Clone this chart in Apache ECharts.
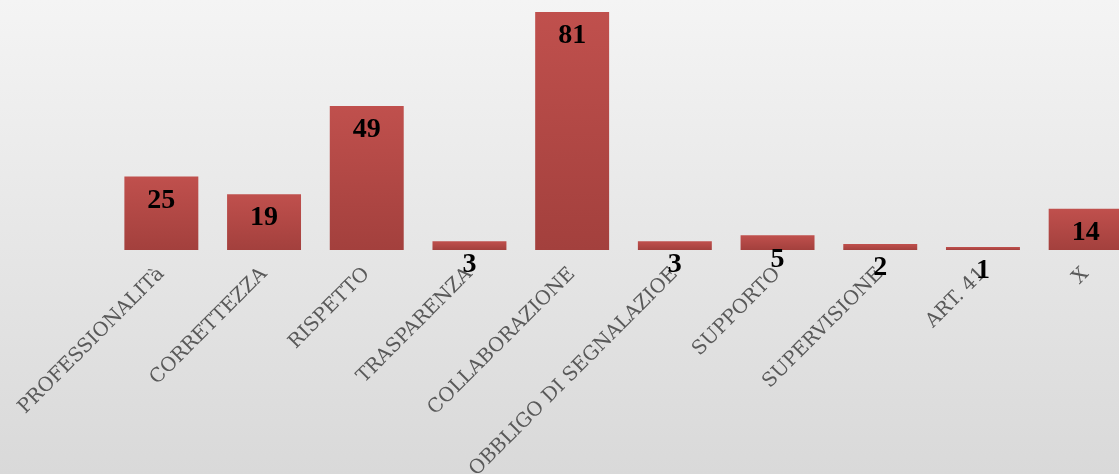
<!DOCTYPE html>
<html>
<head>
<meta charset="utf-8">
<script src="https://cdn.jsdelivr.net/npm/echarts@6/dist/echarts.min.js"></script>
<style>
    html, body { margin: 0; padding: 0; }
    #chart { width: 1119px; height: 474px; }
</style>
</head>
<body>
<div id="chart"></div>
<script>
const categories = ["PROFESSIONALITà", "CORRETTEZZA", "RISPETTO", "TRASPARENZA", "COLLABORAZIONE",
    "OBBLIGO DI SEGNALAZIOE", "SUPPORTO", "SUPERVISIONE", "ART. 41", "X"];
const counts = [25, 19, 49, 3, 81, 3, 5, 2, 1, 14];

const chart = echarts.init(document.getElementById("chart"));
chart.setOption({
    backgroundColor: {
        type: "linear", x: 0, y: 0, x2: 0, y2: 1,
        colorStops: [
            { offset: 0, color: "#f4f4f4" },
            { offset: 1, color: "#d9d9d9" }
        ]
    },
    grid: { left: 110, right: -18, top: 12, bottom: 224, containLabel: false, outerBoundsMode: "none" },
    xAxis: {
        type: "category",
        data: categories,
        axisLine: { show: false },
        axisTick: { show: false },
        axisLabel: {
            interval: 0,
            rotate: 45,
            margin: 21,
            color: "#595959",
            fontFamily: "'DejaVu Serif', serif",
            fontSize: 19.5
        }
    },
    yAxis: {
        type: "value",
        min: 0,
        max: 81,
        show: false,
        splitLine: { show: false }
    },
    series: [{
        type: "bar",
        data: counts,
        barCategoryGap: "28%",
        itemStyle: {
            color: new echarts.graphic.LinearGradient(0, 0, 0, 1, [
                { offset: 0, color: "#c0504d" },
                { offset: 1, color: "#a3403d" }
            ])
        },
        label: {
            show: true,
            position: "insideTop",
            distance: 10,
            color: "#000",
            fontFamily: "'Liberation Serif', serif",
            fontWeight: "bold",
            fontSize: 28
        }
    }]
});
</script>
</body>
</html>
